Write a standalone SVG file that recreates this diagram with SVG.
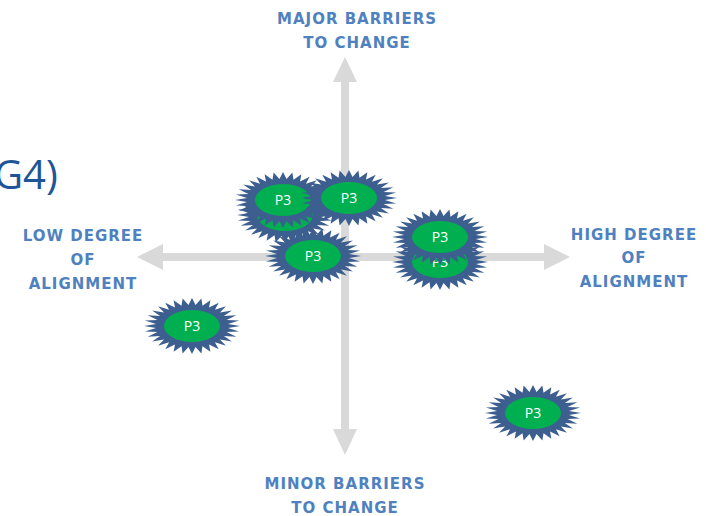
<svg xmlns="http://www.w3.org/2000/svg" xmlns:xlink="http://www.w3.org/1999/xlink" width="706" height="516" viewBox="0 0 706 516">
<style>
.axis{fill:#d9d9d9}
.lbl{font-family:"DejaVu Sans","Liberation Sans",sans-serif;font-weight:bold;font-size:15px;letter-spacing:1px;fill:#4f81c0;text-anchor:middle}
.seal{fill:#3d5f8f}
.core{fill:#00b050}
.p3{font-family:"Open Sans","Liberation Sans",sans-serif;font-size:14px;fill:#ffffff;text-anchor:middle}
.title{font-family:"Open Sans","Liberation Sans",sans-serif;font-size:40px;fill:#1f5597}
</style>
<defs>
<polygon id="seal" class="seal" transform="scale(0.48,0.28)" points="100,0 75,7.38 98.08,19.51 72.06,21.86 92.39,38.27 66.41,35.49 83.15,55.56 58.2,47.77 70.71,70.71 47.77,58.2 55.56,83.15 35.49,66.41 38.27,92.39 21.86,72.06 19.51,98.08 7.38,75 0,100 -7.38,75 -19.51,98.08 -21.86,72.06 -38.27,92.39 -35.49,66.41 -55.56,83.15 -47.77,58.2 -70.71,70.71 -58.2,47.77 -83.15,55.56 -66.41,35.49 -92.39,38.27 -72.06,21.86 -98.08,19.51 -75,7.38 -100,0 -75,-7.38 -98.08,-19.51 -72.06,-21.86 -92.39,-38.27 -66.41,-35.49 -83.15,-55.56 -58.2,-47.77 -70.71,-70.71 -47.77,-58.2 -55.56,-83.15 -35.49,-66.41 -38.27,-92.39 -21.86,-72.06 -19.51,-98.08 -7.38,-75 0,-100 7.38,-75 19.51,-98.08 21.86,-72.06 38.27,-92.39 35.49,-66.41 55.56,-83.15 47.77,-58.2 70.71,-70.71 58.2,-47.77 83.15,-55.56 66.41,-35.49 92.39,-38.27 72.06,-21.86 98.08,-19.51 75,-7.38"/>
</defs>
<rect width="706" height="516" fill="#ffffff"/>
<text class="title" x="-6" y="189">G4)</text>
<g id="axes">
<polygon class="axis" points="345,57 357,82 349,82 349,429 357,429 345,455 333,429 341,429 341,82 333,82"/>
<polygon class="axis" points="137,257 163,244 163,253 544,253 544,244 570,257 544,270 544,261 163,261 163,270"/>
</g>
<g id="labels">
<text class="lbl" x="357" y="24">MAJOR BARRIERS</text>
<text class="lbl" x="357" y="48">TO CHANGE</text>
<text class="lbl" x="345" y="489">MINOR BARRIERS</text>
<text class="lbl" x="345" y="513">TO CHANGE</text>
<text class="lbl" x="83" y="241">LOW DEGREE</text>
<text class="lbl" x="83" y="265">OF</text>
<text class="lbl" x="83" y="289">ALIGNMENT</text>
<text class="lbl" x="634" y="240">HIGH DEGREE</text>
<text class="lbl" x="634" y="263">OF</text>
<text class="lbl" x="634" y="287">ALIGNMENT</text>
</g>
<g id="star-b" transform="translate(285,215)"><use xlink:href="#seal"/><ellipse class="core" rx="28" ry="16"/></g>
<g id="star-a" transform="translate(283,200)"><use xlink:href="#seal"/><ellipse class="core" rx="28" ry="16"/><text class="p3" y="5">P3</text></g>
<g id="star-c" transform="translate(349,198)"><use xlink:href="#seal"/><ellipse class="core" rx="28" ry="16"/><text class="p3" y="5">P3</text></g>
<g id="star-d" transform="translate(313,256)"><use xlink:href="#seal"/><ellipse class="core" rx="28" ry="16"/><text class="p3" y="5">P3</text></g>
<g id="star-f" transform="translate(440,262)"><use xlink:href="#seal"/><ellipse class="core" rx="28" ry="16"/><text class="p3" y="5">P3</text></g>
<g id="star-e" transform="translate(440,237)"><use xlink:href="#seal"/><ellipse class="core" rx="28" ry="16"/><text class="p3" y="5">P3</text></g>
<g id="star-g" transform="translate(192,326)"><use xlink:href="#seal"/><ellipse class="core" rx="28" ry="16"/><text class="p3" y="5">P3</text></g>
<g id="star-h" transform="translate(533,413)"><use xlink:href="#seal"/><ellipse class="core" rx="28" ry="16"/><text class="p3" y="5">P3</text></g>
</svg>
